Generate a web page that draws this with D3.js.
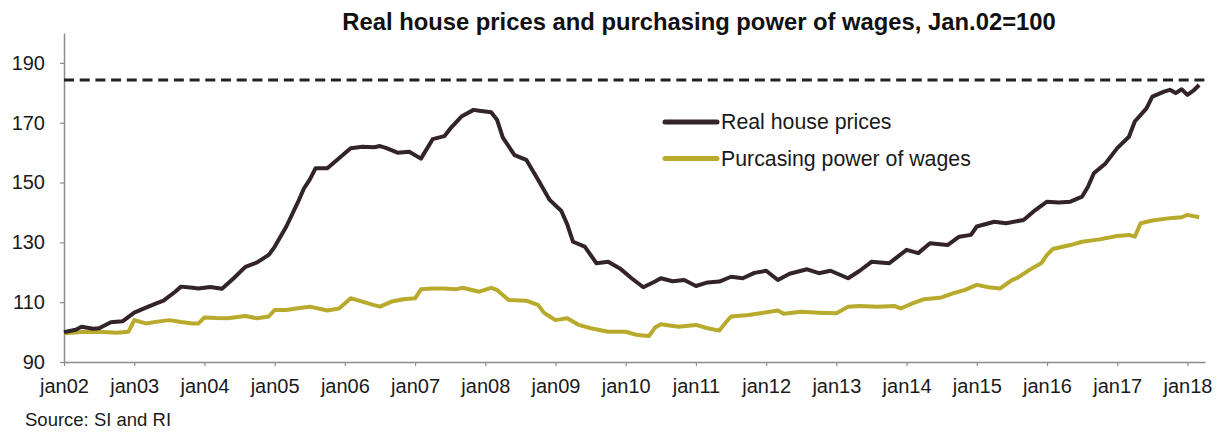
<!DOCTYPE html>
<html>
<head>
<meta charset="utf-8">
<script src="https://cdn.jsdelivr.net/npm/d3@7"></script>
<style>
  body { margin: 0; background: #fff; }
  svg { display: block; font-family: Arial, "Liberation Sans", sans-serif; }
</style>
</head>
<body>
<svg id="chart" width="1219" height="432"></svg>
<script>

// data, month index counted from jan02
var houseMonths = [0, 2, 3, 5, 6, 8, 10, 12, 14, 16, 17, 19, 20, 22, 23, 25, 27, 29, 31, 33,
  35, 36, 38, 40, 41, 42, 43, 45, 47, 49, 51, 53, 54, 55, 57, 59, 61, 63, 65, 66,
  68, 70, 71, 73, 74, 75, 77, 79, 81, 83, 85, 86, 87, 89, 91, 93, 95, 97, 99, 101,
  102, 104, 106, 108, 110, 112, 114, 116, 118, 120, 122, 124, 127, 129, 131, 134, 136, 138, 141, 143,
  144, 146, 148, 151, 153, 155, 156, 159, 161, 164, 166, 168, 170, 172, 174, 175, 176, 178, 180, 182,
  183, 185, 186, 188, 189, 190, 191, 192, 193, 194];
var houseValues = [100, 100.8, 101.8, 101.1, 101.3, 103.3, 103.6, 106.5, 108.2, 109.8, 110.5, 113.5, 115.2, 114.8, 114.6, 115.1, 114.5, 118, 121.8, 123.3,
  125.8, 128.5, 135.3, 143.5, 148, 151, 154.8, 154.8, 158.1, 161.5, 162, 161.8, 162.2, 161.6, 160, 160.3, 158, 164.5, 165.5, 168,
  172.2, 174.3, 174, 173.5, 171, 165, 159.2, 157.6, 151, 144.2, 140.5, 136, 130.2, 128.6, 123, 123.5, 121.3, 118, 115, 116.9,
  118, 117, 117.4, 115.4, 116.6, 116.9, 118.5, 118, 119.8, 120.5, 117.4, 119.5, 121, 119.7, 120.5, 118, 120.5, 123.5, 123, 126,
  127.5, 126.4, 129.7, 129.1, 131.9, 132.5, 135.3, 136.9, 136.4, 137.5, 140.8, 143.6, 143.3, 143.6, 145.3, 148.6, 153.1, 156.4, 161.5, 165.3,
  170.4, 174.8, 178.7, 180.4, 181, 179.9, 181.2, 179.3, 180.7, 182.6];

var wageMonths = [0, 3, 6, 9, 11, 12, 14, 16, 18, 20, 22, 23, 24, 26, 28, 31, 33, 35, 36, 38,
  40, 42, 45, 47, 49, 51, 53, 54, 56, 58, 60, 61, 63, 65, 67, 68, 69, 71, 73, 74,
  76, 79, 81, 82, 83, 84, 86, 88, 90, 93, 96, 98, 100, 101, 102, 105, 108, 110, 112, 113,
  114, 117, 119, 122, 123, 126, 129, 132, 134, 136, 139, 142, 143, 145, 147, 150, 152, 154, 156, 158,
  160, 162, 163, 165, 167, 168, 169, 172, 174, 177, 180, 182, 183, 184, 186, 189, 191, 192, 194];
var wageValues = [99.6, 100, 100.1, 99.8, 100.1, 104, 102.9, 103.5, 104, 103.4, 102.9, 102.9, 104.9, 104.7, 104.6, 105.4, 104.6, 105.2, 107.4, 107.4,
  108, 108.5, 107.2, 107.9, 111.3, 110.2, 109, 108.5, 110.2, 111, 111.3, 114.3, 114.6, 114.6, 114.3, 114.8, 114.4, 113.5, 114.8, 114.1,
  110.7, 110.5, 109.1, 106.5, 105.2, 104, 104.6, 102.4, 101.3, 100.1, 100.1, 99, 98.7, 101.5, 102.6, 101.8, 102.4, 101.3, 100.5, 103,
  105.2, 105.7, 106.3, 107.2, 106.1, 106.8, 106.5, 106.3, 108.5, 108.7, 108.5, 108.7, 107.9, 109.6, 111, 111.6, 113, 114.1, 115.8, 115,
  114.6, 117.4, 118.2, 120.8, 123, 125.8, 127.8, 129.1, 130.2, 131, 132.1, 132.5, 131.9, 136.4, 137.3, 138.1, 138.4, 139.2, 138.4];

var xTickMonths = [0, 12, 24, 36, 48, 60, 72, 84, 96, 108, 120, 132, 144, 156, 168, 180, 192];
var xTickLabels = ["jan02", "jan03", "jan04", "jan05", "jan06", "jan07", "jan08", "jan09", "jan10",
  "jan11", "jan12", "jan13", "jan14", "jan15", "jan16", "jan17", "jan18"];
var yTicks = [90, 110, 130, 150, 170, 190];
var peakLevel = 184.3;

var seriesNames = ["Real house prices", "Purcasing power of wages"];
var seriesColors = ["#33232a", "#b8aa2c"];

var title = "Real house prices and purchasing power of wages, Jan.02=100";
var source = "Source: SI and RI";

/////////////////////////////////////////////////
// setup
/////////////////////////////////////////////////

var svg = d3.select("#chart");

var plotLeft = 64;
var plotRight = 1205;
var plotTop = 33;
var plotBottom = 362;

var x = d3.scaleLinear().domain([0, 195]).range([plotLeft, plotRight]);
var y = d3.scaleLinear().domain([90, 200]).range([plotBottom, plotTop]);

// title
svg.append("text")
  .attr("x", 699)
  .attr("y", 30)
  .attr("text-anchor", "middle")
  .attr("font-size", "23.8px")
  .attr("font-weight", "bold")
  .attr("fill", "#111")
  .text(title);

// axes
var yAxis = svg.append("g")
  .attr("transform", "translate(" + plotLeft + ",0)")
  .call(d3.axisLeft(y).tickValues(yTicks).tickSize(4).tickPadding(15).tickSizeOuter(0));

var xAxis = svg.append("g")
  .attr("transform", "translate(0," + plotBottom + ")")
  .call(d3.axisBottom(x).tickValues(xTickMonths).tickSize(4).tickPadding(13).tickSizeOuter(0)
    .tickFormat(function (d, i) { return xTickLabels[i]; }));

[yAxis, xAxis].forEach(function (g) {
  g.select(".domain").attr("stroke", "#8c8c8c").attr("stroke-width", 1.5);
  g.selectAll(".tick line").attr("stroke", "#8c8c8c").attr("stroke-width", 1.2);
  g.selectAll(".tick text")
    .attr("font-size", "20px")
    .attr("font-family", "Arial, 'Liberation Sans', sans-serif")
    .attr("fill", "#1a1a1a");
});

// dashed level line
svg.append("line")
  .attr("x1", x(0))
  .attr("x2", plotRight)
  .attr("y1", y(peakLevel))
  .attr("y2", y(peakLevel))
  .attr("stroke", "#222")
  .attr("stroke-width", 3)
  .attr("stroke-dasharray", "10,5.7");

/////////////////////////////////////////////////
// lines
/////////////////////////////////////////////////

var line = d3.line()
  .x(function (d) { return x(d[0]); })
  .y(function (d) { return y(d[1]); });

var wages = d3.zip(wageMonths, wageValues);
var house = d3.zip(houseMonths, houseValues);

svg.append("path")
  .attr("d", line(wages))
  .attr("stroke", seriesColors[1])
  .attr("stroke-width", 4)
  .attr("stroke-linejoin", "round")
  .attr("fill", "none");

svg.append("path")
  .attr("d", line(house))
  .attr("stroke", seriesColors[0])
  .attr("stroke-width", 4)
  .attr("stroke-linejoin", "round")
  .attr("fill", "none");

/////////////////////////////////////////////////
// legend
/////////////////////////////////////////////////

for (var i = 0; i < seriesNames.length; i += 1) {
  var ly = 122 + i * 36.5;

  svg.append("line")
    .attr("x1", 665)
    .attr("x2", 717)
    .attr("y1", ly)
    .attr("y2", ly)
    .attr("stroke", seriesColors[i])
    .attr("stroke-width", 5)
    .attr("stroke-linecap", "round");

  svg.append("text")
    .attr("x", 721)
    .attr("y", ly + 7)
    .attr("font-size", "21.3px")
    .attr("fill", "#1a1a1a")
    .text(seriesNames[i]);
}

// source note
svg.append("text")
  .attr("x", 25)
  .attr("y", 426)
  .attr("font-size", "18.5px")
  .attr("fill", "#1a1a1a")
  .text(source);

</script>
</body>
</html>
